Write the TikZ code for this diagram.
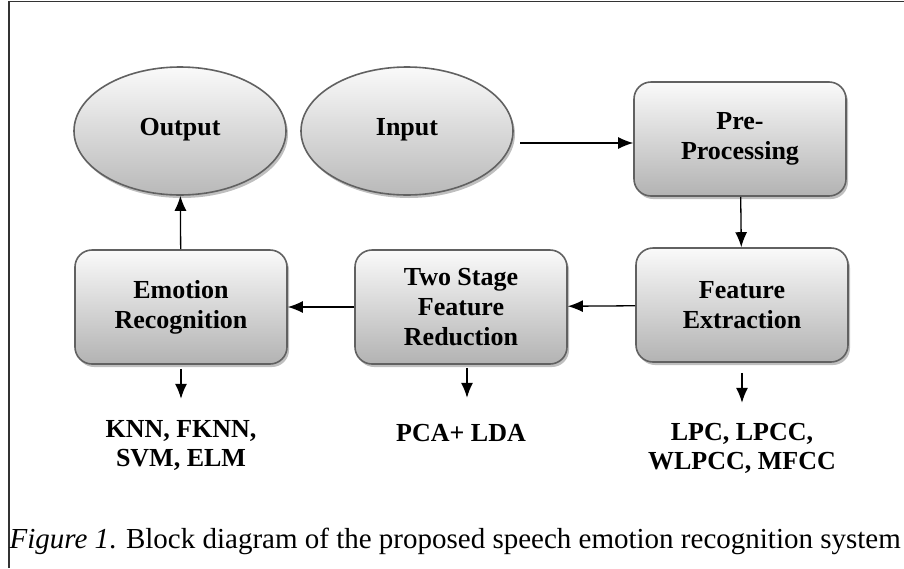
\documentclass[tikz,border=0pt]{standalone}
\usepackage{fontspec}
\setmainfont{Liberation Serif}
\usetikzlibrary{shapes.geometric,shadows,arrows.meta}

\tikzset{
  blok/.style={rectangle, rounded corners=17pt, draw=black!62, line width=1.6pt,
    top color=gray!4, bottom color=gray!60, minimum width=212pt, minimum height=114pt,
    align=center, font=\fontsize{26}{30}\selectfont\bfseries,
    drop shadow={shadow xshift=2pt, shadow yshift=-3pt, opacity=0.25, fill=black}},
  elip/.style={ellipse, draw=black!62, line width=1.6pt,
    top color=gray!4, bottom color=gray!55, minimum width=212pt, minimum height=128pt,
    align=center, font=\fontsize{26}{30}\selectfont\bfseries,
    drop shadow={shadow xshift=2pt, shadow yshift=-3pt, opacity=0.25, fill=black}},
  oznaka/.style={align=center, font=\fontsize{26}{29}\selectfont\bfseries},
  puscica/.style={-{Latex[length=15pt,width=12pt]}, line width=1.3pt}
}

\begin{document}
\begin{tikzpicture}[x=1pt,y=-1pt]
                \useasboundingbox (0,0) rectangle (904,568);
                % okvir
                \draw[line width=1.2pt, black!80] (9,568) -- (9,1.5) -- (904,1.5);

                % bloki
                \node[elip] (izhod) at (180,131) {\raisebox{8pt}{Output}};
                \node[elip] (vhod) at (407,131) {\raisebox{8pt}{Input}};
                \node[blok] (pred) at (740,139) {Pre-\\Processing};
                \node[blok] (znac) at (742,305) {Feature\\Extraction};
                \node[blok] (redu) at (461,307) {Two Stage\\Feature\\Reduction};
                \node[blok] (prep) at (181,307) {Emotion\\Recognition};

                % povezave
                \coordinate (v1) at (520,143);
                \draw[puscica] (v1) -- (pred.west |- v1);
                \draw[puscica] (pred) -- (znac);
                \draw[puscica] (znac) -- (redu);
                \draw[puscica] (redu) -- (prep);
                \draw[puscica] (prep) -- (izhod);

                % metode
                \node[oznaka] (m1) at (181,445) {KNN, FKNN,\\SVM, ELM};
                \node[oznaka] (m2) at (461,433) {PCA+ LDA};
                \node[oznaka] (m3) at (742,448) {LPC, LPCC,\\WLPCC, MFCC};
                \draw[puscica] (prep.south) ++(0,4) coordinate (p1) (p1) -- ++(0,30);
                \draw[puscica] (redu.south) ++(6,3) coordinate (p2) (p2) -- ++(0,30);
                \draw[puscica] (znac.south) ++(0,10) coordinate (p3) (p3) -- ++(0,30);

                % napis
                \node[anchor=west, font=\fontsize{29}{34}\selectfont] (napis) at (6,541)
                  {\textit{Figure 1}. Block diagram of the proposed speech emotion recognition system};
\end{tikzpicture}
\end{document}
